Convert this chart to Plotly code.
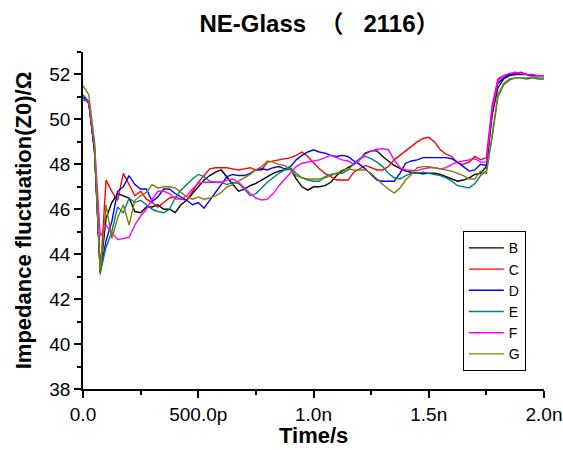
import plotly.graph_objects as go

# time in ns (0 .. 2.0 ns, 25 ps steps)
time_ns = [round(i * 0.025, 3) for i in range(81)]

B = [51.0, 50.8, 48.6, 43.2, 45.6, 46.3, 46.7, 46.6, 46.5, 45.9,
     45.85, 46.1, 46.1, 46.2, 46.0, 46.0, 45.85, 46.2, 46.4, 46.7,
     47.0, 47.3, 47.5, 47.65, 47.75, 47.4, 47.1, 46.8, 46.9, 47.05,
     47.15, 47.3, 47.45, 47.6, 47.7, 47.75, 47.8, 47.35, 47.0, 46.85,
     47.0, 47.0, 47.05, 47.2, 47.5, 47.7, 47.85, 48.0, 48.2, 48.5,
     48.6, 48.6, 48.35, 48.15, 47.95, 47.82, 47.7, 47.65, 47.6, 47.58,
     47.6, 47.6, 47.55, 47.45, 47.35, 47.25, 47.3, 47.4, 47.55, 47.6,
     47.9, 50.2, 51.4, 51.8, 51.95, 52.0, 52.0, 52.0, 51.95, 51.95, 51.95]

C = [51.0, 50.8, 48.6, 43.1, 47.3, 46.8, 46.4, 47.6, 47.1, 46.6,
     46.8, 46.45, 46.3, 46.1, 46.3, 46.5, 46.55, 46.45, 46.4, 46.8,
     47.2, 47.5, 47.8, 47.85, 47.85, 47.85, 47.8, 47.75, 47.8, 47.85,
     47.75, 47.75, 48.1, 48.15, 48.2, 48.25, 48.3, 48.4, 48.55, 48.35,
     48.05, 47.8, 47.6, 47.45, 47.3, 47.3, 47.3, 47.65, 47.8, 47.95,
     47.85, 47.75, 47.75, 47.9, 48.2, 48.4, 48.6, 48.8, 49.0, 49.15,
     49.2, 49.0, 48.65, 48.45, 48.35, 48.05, 48.0, 48.1, 48.35, 48.2,
     48.3, 50.6, 51.8, 51.95, 52.0, 52.05, 52.1, 52.0, 51.95, 51.95, 51.95]

D = [51.0, 50.7, 48.6, 43.2, 44.6, 45.45, 46.8, 47.0, 47.5, 47.1,
     46.9, 46.9, 46.35, 46.55, 46.9, 46.9, 46.7, 46.55, 46.4, 46.2,
     46.3, 46.05, 46.4, 46.8, 47.1, 47.45, 47.55, 47.5, 47.5, 47.6,
     47.75, 47.8, 47.75, 47.85, 47.9, 47.8, 47.9, 48.2, 48.4, 48.55,
     48.65, 48.55, 48.5, 48.4, 48.35, 48.4, 48.35, 48.15, 48.0, 47.8,
     47.55, 47.3, 47.25, 47.25, 47.25, 47.6, 48.05, 48.15, 48.2, 48.3,
     48.3, 48.3, 48.3, 48.3, 48.25, 48.1, 47.9, 47.7, 47.75, 48.0,
     47.95, 50.3, 51.6, 51.85, 52.0, 52.0, 52.05, 52.0, 51.95, 51.95, 51.95]

E = [51.1, 50.8, 48.7, 43.2, 44.3, 45.0, 46.1, 45.85, 46.5, 46.3,
     46.4, 46.2, 46.0, 45.9, 45.85, 46.0, 46.5, 46.85, 47.1, 47.35,
     47.55, 47.45, 47.25, 47.2, 47.2, 47.1, 47.2, 47.15, 46.9, 46.6,
     46.7, 46.95, 47.2, 47.4, 47.6, 47.75, 47.85, 47.6, 47.4, 47.3,
     47.25, 47.25, 47.45, 47.55, 47.6, 47.6, 47.75, 48.05, 48.25, 48.35,
     48.25, 48.1, 47.9, 47.6, 47.4, 47.35, 47.5, 47.6, 47.6, 47.65,
     47.6, 47.55, 47.5, 47.4, 47.25, 47.05, 47.0, 46.95, 47.15, 47.5,
     47.7, 49.2, 51.0, 51.55, 51.75, 51.85, 51.85, 51.8, 51.85, 51.8, 51.8]

F = [50.85, 50.8, 48.9, 44.8, 45.3, 45.0, 44.65, 44.7, 44.75, 45.3,
     45.7, 46.0, 46.45, 46.8, 46.8, 46.7, 46.45, 46.45, 46.6, 46.9,
     47.15, 47.2, 47.2, 47.2, 47.2, 47.3, 47.35, 47.2, 46.95, 46.7,
     46.5, 46.41, 46.45, 46.7, 47.05, 47.35, 47.65, 47.9, 48.05, 48.1,
     48.15, 48.2, 48.3, 48.4, 48.3, 48.2, 48.15, 48.0, 48.2, 48.45,
     48.6, 48.67, 48.7, 48.65, 48.2, 47.85, 47.75, 47.72, 47.72, 47.8,
     47.85, 47.85, 47.8, 47.85, 48.0, 48.1, 48.15, 48.2, 48.25, 48.1,
     48.1, 50.4, 51.7, 51.95, 52.05, 52.1, 52.05, 52.0, 52.0, 51.95, 51.95]

G = [51.5, 51.1, 49.0, 43.2, 46.2, 44.7, 45.6, 46.2, 45.3, 46.4,
     46.6, 46.75, 47.1, 46.95, 47.0, 47.0, 46.95, 46.75, 46.55, 46.45,
     46.55, 46.45, 46.5, 46.6, 46.75, 47.0, 47.1, 47.25, 47.4, 47.55,
     47.75, 47.9, 48.15, 48.1, 48.0, 47.95, 47.75, 47.5, 47.4, 47.35,
     47.35, 47.35, 47.4, 47.5, 47.6, 47.75, 47.8, 47.75, 47.75, 47.75,
     47.6, 47.35, 47.1, 46.9, 46.72, 46.95, 47.3, 47.55, 47.85, 47.9,
     47.9, 47.85, 47.8, 47.75, 47.7, 47.6, 47.5, 47.35, 47.35, 47.7,
     47.6, 49.3, 51.1, 51.6, 51.8, 51.85, 51.85, 51.85, 51.9, 51.85, 51.85]

series_names = ["B", "C", "D", "E", "F", "G"]
series_values = [B, C, D, E, F, G]
series_colors = ["#000000", "#FF0000", "#0000FF", "#008080", "#FF00FF", "#808000"]

x_tickvals = [0.0, 0.5, 1.0, 1.5, 2.0]
x_ticktext = ["0.0", "500.0p", "1.0n", "1.5n", "2.0n"]
y_tickvals = [38, 40, 42, 44, 46, 48, 50, 52]

FONT = "Liberation Sans, Arial, Noto Sans CJK SC, sans-serif"
NB = "\u00a0"
title_text = "NE-Glass" + NB * 2 + "（" + NB * 3 + "2116" + "）"

fig = go.Figure()
for name, vals, col in zip(series_names, series_values, series_colors):
    fig.add_trace(go.Scatter(x=time_ns, y=vals, mode="lines", name=name,
                             line=dict(color=col, width=1.4)))

fig.update_layout(
    width=563, height=450,
    margin=dict(l=83, r=19, t=52, b=61),
    paper_bgcolor="white", plot_bgcolor="white",
    font=dict(family=FONT, color="black"),
    title=dict(text="<b>" + title_text + "</b>", xref="paper", x=0.513, xanchor="center",
               yref="container", y=0.947, yanchor="middle",
               font=dict(size=24, family=FONT)),
    legend=dict(x=0.824, y=0.468, xanchor="left", yanchor="top",
                bordercolor="black", borderwidth=1, bgcolor="white",
                font=dict(size=14, family=FONT), tracegroupgap=0,
                itemwidth=35),
    showlegend=True,
    annotations=[dict(text="<b>Time/s</b>", xref="paper", yref="paper",
                      x=0.5, y=-0.138, xanchor="center", yanchor="middle",
                      showarrow=False, font=dict(size=22, family=FONT))],
)

fig.update_xaxes(
    range=[0, 2.0], tickvals=x_tickvals, ticktext=x_ticktext, automargin=False,
    showgrid=False, zeroline=False, showline=True, linecolor="black", linewidth=1.5,
    ticks="outside", ticklen=7, tickwidth=1.5, tickcolor="black",
    tickfont=dict(size=19, family=FONT),
    minor=dict(dtick=0.25, ticks="outside", ticklen=4, tickwidth=1.5, tickcolor="black", tick0=0),
)
fig.update_yaxes(
    range=[38, 53], tickvals=y_tickvals, automargin=False,
    showgrid=False, zeroline=False, showline=True, linecolor="black", linewidth=1.5,
    ticks="outside", ticklen=7, tickwidth=1.5, tickcolor="black",
    tickfont=dict(size=19, family=FONT),
    minor=dict(dtick=1, ticks="outside", ticklen=4, tickwidth=1.5, tickcolor="black", tick0=38),
    title=dict(text="<b>Impedance fluctuation(Z0)/Ω</b>", font=dict(size=22, family=FONT), standoff=12),
)

fig.write_html("out.html", config={"displayModeBar": False},
               post_script="document.body.style.margin='0';document.body.style.overflow='hidden';")
